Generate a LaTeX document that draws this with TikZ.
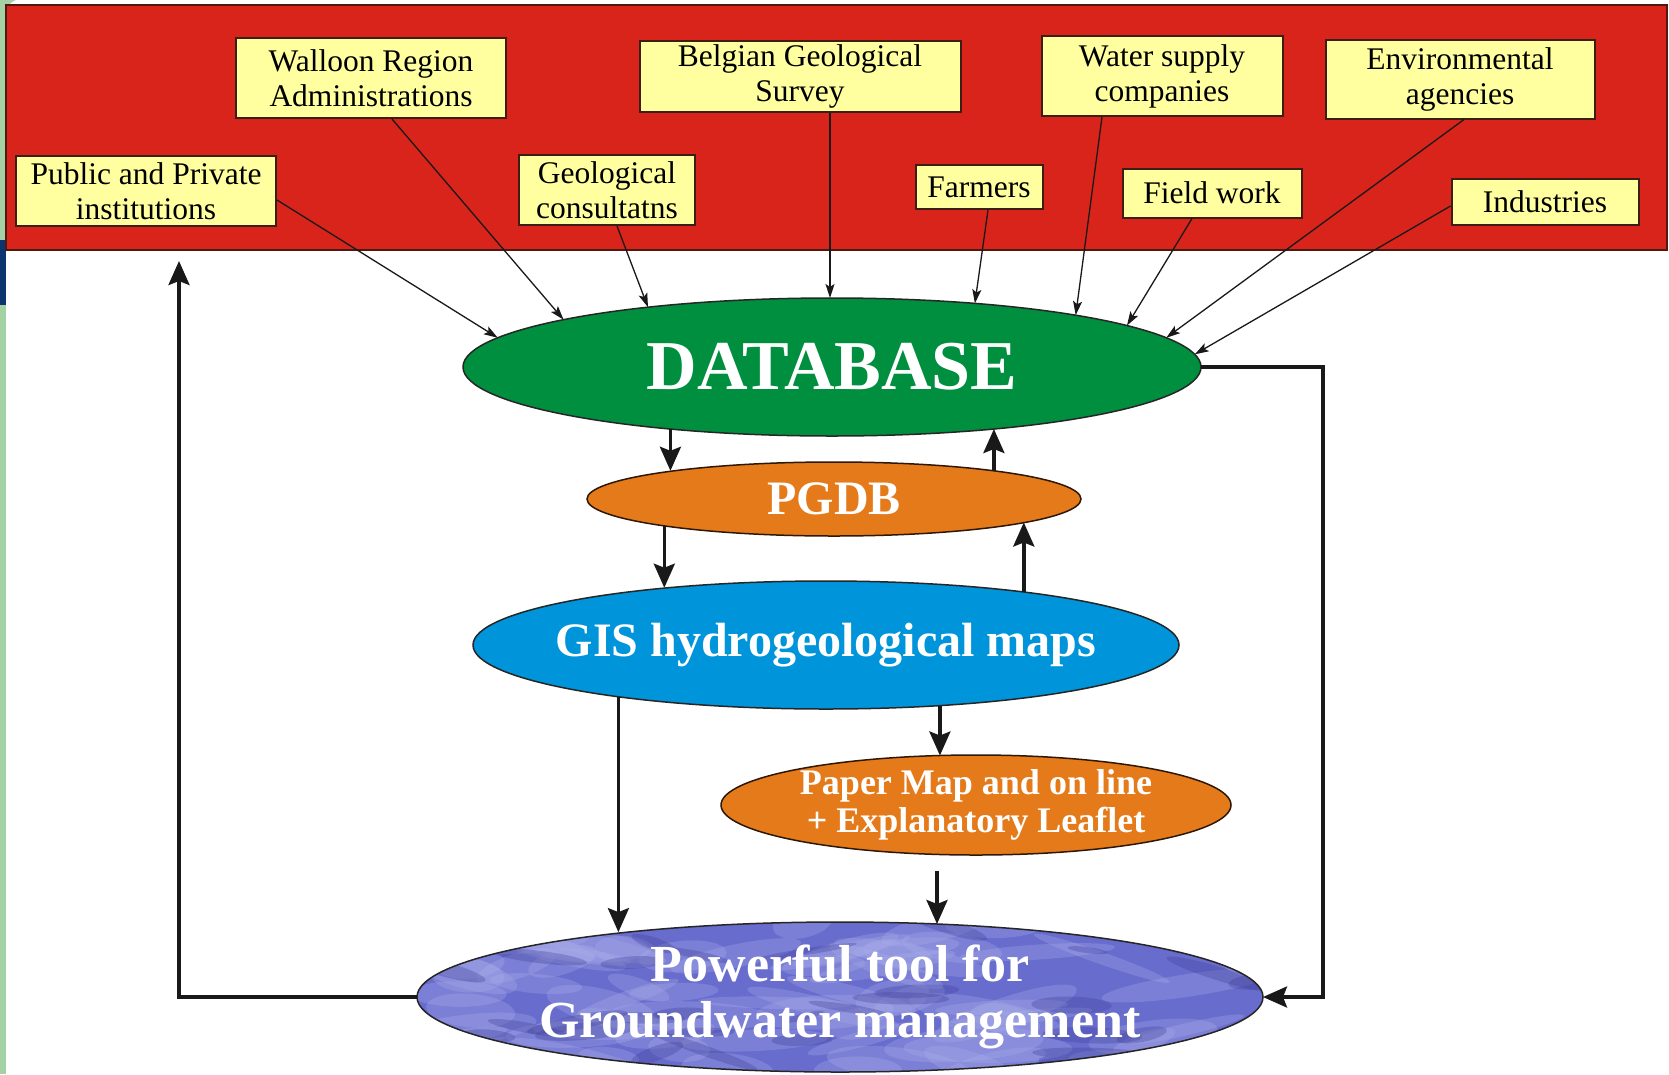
\documentclass[tikz,border=0pt]{standalone}
\usepackage{fontspec}
\setmainfont{Liberation Serif}
\usetikzlibrary{arrows.meta,shapes.geometric,calc}

\definecolor{bgred}{RGB}{216,36,26}
\definecolor{rededge}{RGB}{80,25,15}
\definecolor{boxyel}{RGB}{255,255,160}
\definecolor{boxedge}{RGB}{60,30,20}
\definecolor{dbgreen}{RGB}{0,143,62}
\definecolor{pgorange}{RGB}{229,122,26}
\definecolor{gisblue}{RGB}{0,148,218}
\definecolor{powblue}{RGB}{104,108,204}
\definecolor{powlight}{RGB}{170,174,234}
\definecolor{powdark}{RGB}{60,60,150}
\definecolor{stripgreen}{RGB}{165,210,165}
\definecolor{stripblue}{RGB}{12,52,110}

\begin{document}
\begin{tikzpicture}[x=1pt,y=-1pt,
  srcbox/.style={draw=boxedge, line width=2pt, fill=boxyel, inner sep=0pt, align=center,
    font=\fontsize{31.5}{35}\selectfont, text=black},
  oval/.style={ellipse, draw=black!85, line width=1.5pt, inner sep=0pt, outer sep=0pt},
  ovaltext/.style={text=white, align=center, inner sep=0pt},
  feed/.style={-{Stealth[length=14pt,width=9pt,inset=3pt]}, line width=1.3pt, draw=black!90},
  flow/.style={-{Stealth[length=24pt,width=21pt,inset=4pt]}, line width=3.5pt, draw=black!90},
]
\useasboundingbox (0,0) rectangle (1669,1074);
\fill[white] (0,0) rectangle (1669,1074);

% left strip
\fill[stripgreen] (0,0) rectangle (6,1074);
\fill[stripgreen] (0,0) -- (16,0) .. controls (9,3) and (6,7) .. (6,14) -- (0,14) -- cycle;
\fill[stripblue] (0,240) rectangle (6,305);

% red panel
\node[draw=rededge, line width=1.5pt, fill=bgred, minimum width=1661pt, minimum height=245pt,
      anchor=north west, inner sep=0pt, outer sep=0pt] (red) at (6,5) {};

% source boxes
\node[srcbox, minimum width=260pt, minimum height=70pt] (pub) at (146,191) {Public and Private\\institutions};
\node[srcbox, minimum width=270pt, minimum height=80pt] (wal) at (371,78) {Walloon Region\\Administrations};
\node[srcbox, minimum width=176pt, minimum height=70pt] (geo) at (607,190) {Geological\\consultatns};
\node[srcbox, minimum width=321pt, minimum height=71pt] (bel) at (800,76) {Belgian Geological\\Survey};
\node[srcbox, minimum width=127pt, minimum height=44pt] (far) at (979,187) {Farmers};
\node[srcbox, minimum width=241pt, minimum height=80pt] (wat) at (1162,76) {Water supply\\companies};
\node[srcbox, minimum width=179pt, minimum height=49pt] (fie) at (1212,193) {Field work};
\node[srcbox, minimum width=269pt, minimum height=79pt] (env) at (1460,79) {Environmental\\agencies};
\node[srcbox, minimum width=187pt, minimum height=46pt] (ind) at (1545,202) {Industries};

% ellipses
\node[oval, fill=dbgreen, minimum width=738pt, minimum height=138pt] (db) at (832,367) {};
\node[ovaltext, font=\bfseries\fontsize{70}{70}\selectfont] at (db.center) {DATABASE};

\node[oval, fill=pgorange, draw=black!80!pgorange, minimum width=494pt, minimum height=74pt] (pg) at (834,499) {};
\node[ovaltext, font=\bfseries\fontsize{48}{48}\selectfont] at (pg.center) {PGDB};

\node[oval, fill=gisblue, minimum width=706pt, minimum height=128pt] (gis) at (826,645) {};
\node[ovaltext, font=\bfseries\fontsize{48}{48}\selectfont] at (gis.center) {GIS hydrogeological maps};

\node[oval, fill=pgorange, draw=black!80!pgorange, minimum width=510pt, minimum height=100pt] (pap) at (976,805) {};
\node[ovaltext, font=\bfseries\fontsize{36}{38}\selectfont] at (pap.center) {Paper Map and on line\\+ Explanatory Leaflet};

% textured bottom ellipse
\begin{scope}
  \clip (840,997) ellipse [x radius=423, y radius=75];
  \fill[powblue] (840,997) ellipse [x radius=423, y radius=75];
  \pgfmathsetseed{11}
  \foreach \i in {1,...,80}{
    \pgfmathsetmacro{\bx}{420+rnd*840}
    \pgfmathsetmacro{\by}{920+rnd*155}
    \pgfmathsetmacro{\ra}{30+rnd*60}
    \pgfmathsetmacro{\rb}{6+rnd*12}
    \pgfmathsetmacro{\rot}{rnd*40-20}
    \fill[powlight, opacity=0.3, rotate around={\rot:(\bx,\by)}] (\bx,\by) ellipse [x radius=\ra, y radius=\rb];
  }
  \foreach \i in {1,...,40}{
    \pgfmathsetmacro{\bx}{420+rnd*840}
    \pgfmathsetmacro{\by}{920+rnd*155}
    \pgfmathsetmacro{\ra}{20+rnd*40}
    \pgfmathsetmacro{\rb}{3+rnd*6}
    \pgfmathsetmacro{\rot}{rnd*40-20}
    \fill[powdark, opacity=0.3, rotate around={\rot:(\bx,\by)}] (\bx,\by) ellipse [x radius=\ra, y radius=\rb];
  }
\end{scope}
\node[oval, minimum width=846pt, minimum height=150pt] (pow) at (840,997) {};
\node[ovaltext, font=\bfseries\fontsize{52}{56}\selectfont] at (pow.center) {Powerful tool for\\Groundwater management};

% feed arrows into DATABASE
\coordinate (belS) at ($(bel.south)+(30,0)$);
\draw[feed] ($(pub.east)+(0,9)$) -- (db.175.4);
\draw[feed] ($(wal.south)+(21,0)$) -- (db.170.2);
\draw[feed] ($(geo.south)+(10,0)$) -- (db.162.9);
\draw[feed] (belS) -- (belS |- db.north);
\draw[feed] ($(far.south)+(9,0)$) -- (db.24.2);
\draw[feed] ($(wat.south)+(-60,0)$) -- (db.12.3);
\draw[feed] ($(fie.south)+(-20,0)$) -- (db.8.5);
\draw[feed] ($(env.south)+(4,0)$) -- (db.5.5);
\draw[feed] ($(ind.west)+(0,4)$) -- (db.2);

% flow arrows
\draw[flow] (db.201.1) -- (db.201.1 |- pg.170.3);
\draw[flow] (pg.10.1) -- (pg.10.1 |- db.-21.1);
\draw[flow] (pg.189.2) -- (pg.189.2 |- gis.160.4);
\draw[flow] (gis.15.5) -- (gis.15.5 |- pg.-7.55);
\draw[flow] (gis.194.98) -- (gis.194.98 |- pow.163);
\draw[flow] (gis.-28.2) -- (gis.-28.2 |- pap.126.8);
\coordinate (papout) at ($(pap.south)+(-39,16)$);
\draw[flow] (papout) -- (papout |- pow.37);
\draw[flow] (db.east) -- ++(122,0) |- (pow.east);
\coordinate (fb) at (179,261);
\draw[flow] (pow.west) -| (fb);
\end{tikzpicture}
\end{document}
